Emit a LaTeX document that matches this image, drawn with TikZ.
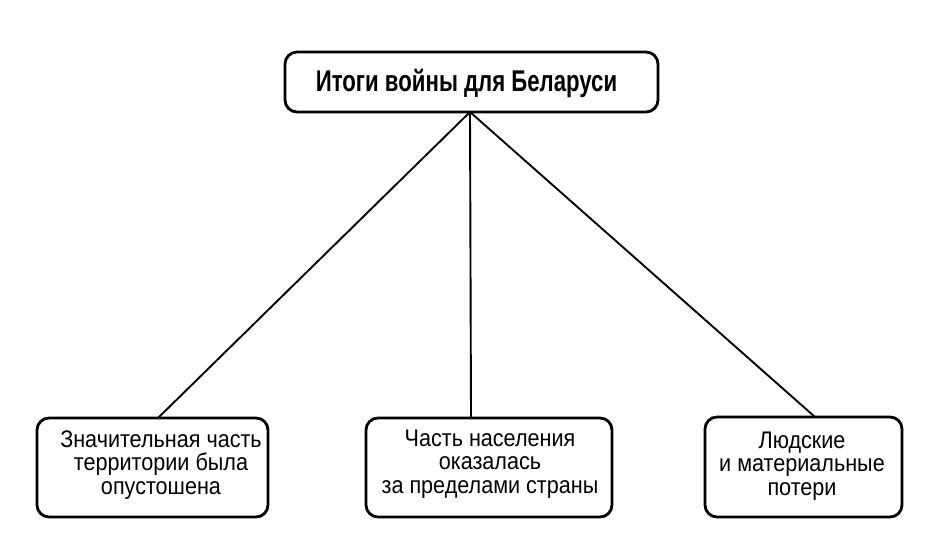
\documentclass[tikz,border=0pt]{standalone}
\usepackage{fontspec}
\setmainfont{Liberation Sans}
\newfontfamily\topfont[FakeStretch=0.74]{Liberation Sans}
\newfontfamily\boxfont[FakeStretch=0.9]{Liberation Sans}
\begin{document}
\begin{tikzpicture}[x=1pt,y=-1pt,
  box/.style={draw=black, line width=2.8pt, rounded corners=12pt, inner sep=0pt},
  lbl/.style={align=center, inner sep=0pt, font=\boxfont\fontsize{24}{23.5}\selectfont},
  conn/.style={line width=1.9pt}]
\useasboundingbox[fill=white] (0,0) rectangle (936,534);
% top box
\node[box, minimum width=373pt, minimum height=60pt] (T) at (471.5,82) {};
\node[inner sep=0pt, font=\topfont\bfseries\fontsize{30}{32}\selectfont] (Tt) at (466.5,83) {Итоги войны для Беларуси};
% bottom boxes
\node[box, minimum width=231pt, minimum height=99pt] (L) at (152.5,467.5) {};
\node[box, minimum width=246pt, minimum height=99pt] (M) at (489,467.5) {};
\node[box, minimum width=197pt, minimum height=100pt] (R) at (803.5,467) {};
\node[lbl] (Lt) at (161,465) {Значительная часть\\территории была\\опустошена};
\node[lbl] (Mt) at (490,464) {Часть населения\\оказалась\\за пределами страны};
\node[lbl] (Rt) at (802,466) {Людские\\и материальные\\потери};
% connectors
\coordinate (apex) at (470,112);
\coordinate (Lc) at (158,418);
\coordinate (Mc) at (471,418);
\coordinate (Rc) at (815,417);
\draw[conn] (apex) -- (Lc);
\draw[conn] (apex) -- (Mc);
\draw[conn] (apex) -- (Rc);
\end{tikzpicture}
\end{document}
